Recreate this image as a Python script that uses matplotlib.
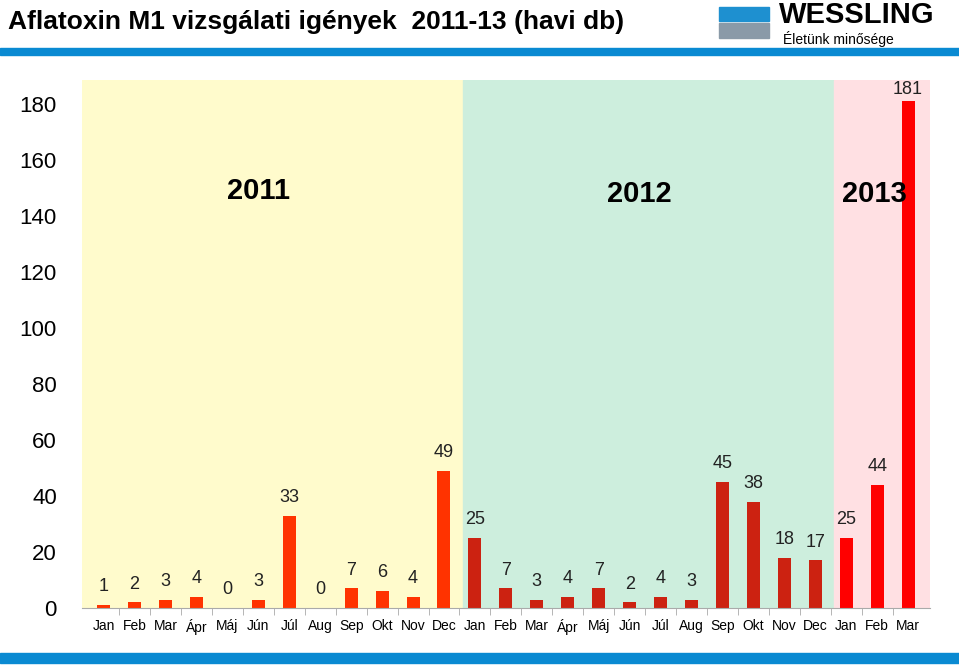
import matplotlib.pyplot as plt
from matplotlib.patches import Rectangle

plt.rcParams["font.family"] = "Liberation Sans"

months = (["Jan", "Feb", "Mar", "Ápr", "Máj", "Jún", "Júl", "Aug", "Sep", "Okt", "Nov", "Dec"] * 3)[:27]
values_2011 = [1, 2, 3, 4, 0, 3, 33, 0, 7, 6, 4, 49]
values_2012 = [25, 7, 3, 4, 7, 2, 4, 3, 45, 38, 18, 17]
values_2013 = [25, 44, 181]
years = ["2011", "2012", "2013"]

values = values_2011 + values_2012 + values_2013
colors = ["#ff3300"] * 12 + ["#cc2211"] * 12 + ["#ff0000"] * 3

fig = plt.figure(figsize=(9.59, 6.71), dpi=100)
ax = fig.add_axes([0.0855, 0.094, 0.884, 0.787])
x = list(range(len(values)))

ax.axvspan(-0.7, 11.6, color="#fffbcc", zorder=0)
ax.axvspan(11.6, 23.6, color="#cdeedd", zorder=0)
ax.axvspan(23.6, 26.7, color="#ffe0e3", zorder=0)

ax.bar(x, values, width=0.42, color=colors, zorder=2)
for xi, v in zip(x, values):
    ax.text(xi, min(v + 6.5, 185), str(v), ha="center", va="center",
            fontsize=13, color="#222222", zorder=3)

ax.text(5.0, 149, years[0], fontsize=21, fontweight="bold", ha="center", va="center")
ax.text(17.3, 148, years[1], fontsize=21, fontweight="bold", ha="center", va="center")
ax.text(24.9, 148, years[2], fontsize=21, fontweight="bold", ha="center", va="center")

ax.set_xlim(-0.7, 26.7)
ax.set_ylim(0, 188.6)
ax.set_yticks(range(0, 181, 20))
ax.set_xticks(x)
ax.set_xticklabels(months)
ax.set_xticks([i + 0.5 for i in x[:-1]], minor=True)
ax.tick_params(axis="y", labelsize=16, length=0, pad=18)
ax.tick_params(axis="x", which="major", length=0, labelsize=10, pad=8)
ax.tick_params(axis="x", which="minor", length=5, color="#aaaaaa")
for s in ["top", "right", "left"]:
    ax.spines[s].set_visible(False)
ax.spines["bottom"].set_color("#aaaaaa")

fig.text(0.008, 0.967, "Aflatoxin M1 vizsgálati igények  2011-13 (havi db)",
         fontsize=19, fontweight="bold", va="center")
fig.patches.append(Rectangle((0, 0.918), 1, 0.011, transform=fig.transFigure, color="#0a8ad2"))
fig.patches.append(Rectangle((0, 0.012), 1, 0.015, transform=fig.transFigure, color="#0a8ad2"))
fig.patches.append(Rectangle((0.75, 0.968), 0.052, 0.022, transform=fig.transFigure, color="#1e90d0"))
fig.patches.append(Rectangle((0.75, 0.944), 0.052, 0.022, transform=fig.transFigure, color="#8a9aa8"))
fig.text(0.812, 0.978, "WESSLING", fontsize=21, fontweight="bold", va="center")
fig.text(0.816, 0.942, "Életünk minősége", fontsize=10, va="center")

fig.savefig("out.png", dpi=100)
